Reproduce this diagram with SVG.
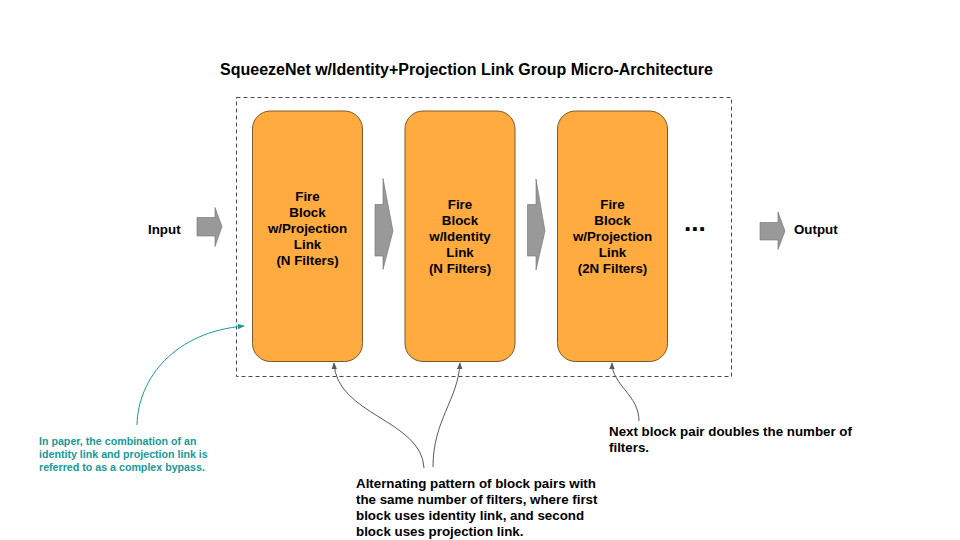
<svg xmlns="http://www.w3.org/2000/svg" width="960" height="540" viewBox="0 0 960 540">
<style>
  text { font-family: "Liberation Sans", Arial, sans-serif; font-weight: bold; }
  .title { font-size: 16px; fill: #000; }
  .lbl { font-size: 13.33px; fill: #000; }
  .blk text { font-size: 13.33px; fill: #000; text-anchor: middle; }
  .note { font-size: 10.67px; fill: #16999a; }
  .fire { fill: #ffab40; stroke: #7a5a2a; stroke-width: 1; }
  .barrow { fill: #999999; stroke: #6f6f6f; stroke-width: 0.6; }
  .frame { fill: none; stroke: #4a4a4a; stroke-width: 1; stroke-dasharray: 4 3; }
  .gline { fill: none; stroke: #595959; stroke-width: 1; }
  .tline { fill: none; stroke: #16999a; stroke-width: 1; }
</style>
<defs>
  <marker id="ag" viewBox="0 0 10 10" refX="9" refY="5" markerWidth="7" markerHeight="7" orient="auto" markerUnits="userSpaceOnUse">
    <path d="M0,1 L10,5 L0,9 Z" fill="#595959"/>
  </marker>
  <marker id="at" viewBox="0 0 10 10" refX="9" refY="5" markerWidth="7" markerHeight="7" orient="auto" markerUnits="userSpaceOnUse">
    <path d="M0,1 L10,5 L0,9 Z" fill="#16999a"/>
  </marker>
</defs>
<rect width="960" height="540" fill="#ffffff"/>

<text class="title" x="466.5" y="75" text-anchor="middle">SqueezeNet w/Identity+Projection Link Group Micro-Architecture</text>

<rect id="group-frame" class="frame" x="236.5" y="97.5" width="495" height="279"/>

<g id="input">
  <text class="lbl" x="148" y="233.5">Input</text>
</g>
<g id="input-arrow">
  <path class="barrow" d="M197,217.5 L215,217.5 L215,207.5 L222,226.5 L215,246.5 L215,236 L197,236 Z"/>
</g>

<g id="block1" class="blk">
  <rect class="fire" x="252.5" y="111" width="110" height="250.5" rx="18" ry="18"/>
  <text x="307.5" y="201">Fire</text>
  <text x="307.5" y="217">Block</text>
  <text x="307.5" y="233">w/Projection</text>
  <text x="307.5" y="249">Link</text>
  <text x="307.5" y="265">(N Filters)</text>
</g>

<g id="arrow12">
  <path class="barrow" d="M375,204.5 L383,204.5 L383,178.5 L393,231 L383,269.5 L383,256 L375,256 Z"/>
</g>

<g id="block2" class="blk">
  <rect class="fire" x="405" y="111" width="110" height="250.5" rx="18" ry="18"/>
  <text x="460" y="209">Fire</text>
  <text x="460" y="225">Block</text>
  <text x="460" y="241">w/Identity</text>
  <text x="460" y="257">Link</text>
  <text x="460" y="273">(N Filters)</text>
</g>

<g id="arrow23">
  <path class="barrow" d="M527.5,204.5 L536,204.5 L536,179 L545,231 L536,270 L536,256 L527.5,256 Z"/>
</g>

<g id="block3" class="blk">
  <rect class="fire" x="557.5" y="111" width="110" height="250.5" rx="18" ry="18"/>
  <text x="612.5" y="209">Fire</text>
  <text x="612.5" y="225">Block</text>
  <text x="612.5" y="241">w/Projection</text>
  <text x="612.5" y="257">Link</text>
  <text x="612.5" y="273">(2N Filters)</text>
</g>

<g id="ellipsis">
  <text x="684" y="231" style="font-size:26px">...</text>
</g>

<g id="output-arrow">
  <path class="barrow" d="M760,222.5 L778,222.5 L778,212 L785,231 L778,249.5 L778,240 L760,240 Z"/>
</g>
<g id="output">
  <text class="lbl" x="794" y="233.5">Output</text>
</g>

<g id="note-bypass">
  <text class="note" x="39" y="445">In paper, the combination of an</text>
  <text class="note" x="39" y="458">identity link and projection link is</text>
  <text class="note" x="39" y="471">referred to as a complex bypass.</text>
</g>

<g id="note-doubles">
  <text class="lbl" x="609" y="436">Next block pair doubles the number of</text>
  <text class="lbl" x="609" y="452">filters.</text>
</g>

<g id="note-alternating">
  <text class="lbl" x="356" y="488">Alternating pattern of block pairs with</text>
  <text class="lbl" x="356" y="504">the same number of filters, where first</text>
  <text class="lbl" x="356" y="520">block uses identity link, and second</text>
  <text class="lbl" x="356" y="536">block uses projection link.</text>
</g>

<g id="connectors">
  <path class="tline" d="M137,425 C138,378 175,332 244,326" marker-end="url(#at)"/>
  <path class="gline" d="M424,468 C422,420 336,415 334,363" marker-end="url(#ag)"/>
  <path class="gline" d="M433,467 C433,420 458,400 460,363" marker-end="url(#ag)"/>
  <path class="gline" d="M639,421 C639,395 612,385 612,363" marker-end="url(#ag)"/>
</g>
</svg>
